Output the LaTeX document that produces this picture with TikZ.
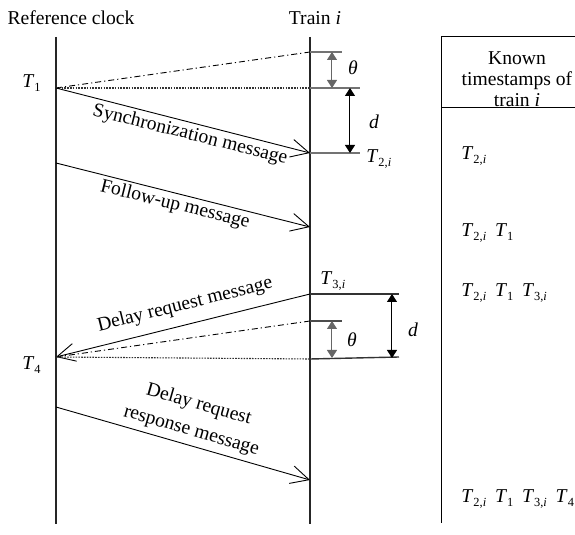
\documentclass[tikz,border=0pt]{standalone}
\usepackage{fontspec}
\setmainfont{Liberation Serif}
\usetikzlibrary{arrows.meta}
\newcommand{\Tsb}[1]{\textit{T}\raisebox{-0.4ex}{\fontsize{6.2}{7}\selectfont #1}}
\newcommand{\gp}{\hspace{0.45em}}
\begin{document}
\begin{tikzpicture}[x=0.5pt,y=-0.5pt,
  font=\fontsize{9.8}{11.5}\selectfont,
  timeline/.style={line width=0.9pt, draw=black!85},
  msg/.style={line width=0.45pt, -{Straight Barb[length=9pt,width=9pt,line width=0.45pt]}},
  tickln/.style={line width=0.7pt, draw=black!55},
  measure/.style={line width=0.5pt, {Triangle[length=4pt,width=5pt]}-{Triangle[length=4pt,width=5pt]}},
  dashdot/.style={line width=0.45pt, dash pattern=on 3pt off 1.5pt on 0.6pt off 1.5pt},
  dotline/.style={line width=0.55pt, draw=black!80, dash pattern=on 0.8pt off 0.6pt},
  lbl/.style={inner sep=0pt},
]
\useasboundingbox (0,0) rectangle (575,535);

% titles
\node[lbl, anchor=base] (rc) at (71,25) {Reference clock};
\node[lbl, anchor=base] (tr) at (315,25) {Train \textit{i}};

% timelines
\coordinate (Ltop) at (56,37);
\coordinate (Lbot) at (56,524);
\coordinate (Rtop) at (310,37);
\coordinate (Rbot) at (310,524);
\draw[timeline] (Ltop) -- (Lbot);
\draw[timeline] (Rtop) -- (Rbot);

% event points
\coordinate (t1) at (56,88);
\coordinate (pa) at (310,52);
\coordinate (pb) at (310,88);
\coordinate (t2) at (310,153);
\coordinate (f1) at (56,163);
\coordinate (f2) at (310,227);
\coordinate (t3) at (310,294);
\coordinate (pc) at (310,321);
\coordinate (pe) at (310,359);
\coordinate (t4) at (56,357);
\coordinate (r1) at (56,407);
\coordinate (r2) at (310,480);

% tick ends
\coordinate (pa2) at (342,52);
\coordinate (pb2) at (360,88);
\coordinate (t22) at (360,153);
\coordinate (t32) at (399,294);
\coordinate (pc2) at (342,321);
\coordinate (pe2) at (399,357);

% top section
\draw[dashdot] (t1) -- (pa);
\draw[dotline] (t1) -- (pb);
\draw[msg] (t1) -- (t2);
\draw[tickln] (pa) -- (pa2);
\draw[tickln] (pb) -- (pb2);
\draw[tickln] (t2) -- (t22);
\coordinate (m1a) at (332,52);
\coordinate (m1b) at (332,88);
\coordinate (m2a) at (350,88);
\coordinate (m2b) at (350,153);
\draw[measure, draw=black!60] (m1a) -- (m1b);
\draw[measure] (m2a) -- (m2b);
\node[lbl] (th1) at (353,68) {\textit{θ}};
\node[lbl] (d1) at (374,122) {\textit{d}};
\node[lbl, anchor=base west] (T1l) at (22,88) {\Tsb{1}};
\node[lbl, anchor=base west] (T2l) at (366,163) {\Tsb{2,\textit{i}}};
\node[lbl, rotate=-14] (syncl) at (190,135) {Synchronization message};

% follow-up
\draw[msg] (f1) -- (f2);
\node[lbl, rotate=-14] (folll) at (175,205) {Follow-up message};

% delay request
\draw[msg] (t3) -- (t4);
\draw[dashdot] (pc) -- (t4);
\draw[dotline] (t4) -- (pe);
\draw[tickln, draw=black!80] (t3) -- (t32);
\draw[tickln, draw=black!70] (pc) -- (pc2);
\draw[tickln, draw=black!80] (pe) -- (pe2);
\coordinate (m3a) at (332,321);
\coordinate (m3b) at (332,358);
\coordinate (m4a) at (392,294);
\coordinate (m4b) at (392,358);
\draw[measure, draw=black!60] (m3a) -- (m3b);
\draw[measure] (m4a) -- (m4b);
\node[lbl] (th2) at (352,340) {\textit{θ}};
\node[lbl] (d2) at (413,330) {\textit{d}};
\node[lbl, anchor=base west] (T3l) at (320,285) {\Tsb{3,\textit{i}}};
\node[lbl, anchor=base west] (T4l) at (22,370) {\Tsb{4}};
\node[lbl, rotate=14] (dreql) at (185,305) {Delay request message};

% response
\draw[msg] (r1) -- (r2);
\node[lbl, rotate=-16, align=center, font=\fontsize{9.8}{13.5}\selectfont] (respl) at (195,418) {Delay request\\response message};

% table
\coordinate (tb1) at (442,523);
\coordinate (tb2) at (442,37);
\coordinate (tb3) at (575,37);
\coordinate (tb4) at (442,108);
\coordinate (tb5) at (575,108);
\draw[line width=0.5pt] (tb1) -- (tb2) -- (tb3);
\draw[line width=0.5pt] (tb4) -- (tb5);
\node[lbl, align=center, font=\fontsize{9.8}{10.5}\selectfont] (hdr) at (517,79) {Known\\timestamps of\\train \textit{i}};
\node[lbl, anchor=base west] (row1) at (461,160) {\Tsb{2,\textit{i}}};
\node[lbl, anchor=base west] (row2) at (461,237) {\Tsb{2,\textit{i}}\gp\Tsb{1}};
\node[lbl, anchor=base west] (row3) at (461,297) {\Tsb{2,\textit{i}}\gp\Tsb{1}\gp\Tsb{3,\textit{i}}};
\node[lbl, anchor=base west] (row4) at (461,503) {\Tsb{2,\textit{i}}\gp\Tsb{1}\gp\Tsb{3,\textit{i}}\gp\Tsb{4}};
\end{tikzpicture}
\end{document}
